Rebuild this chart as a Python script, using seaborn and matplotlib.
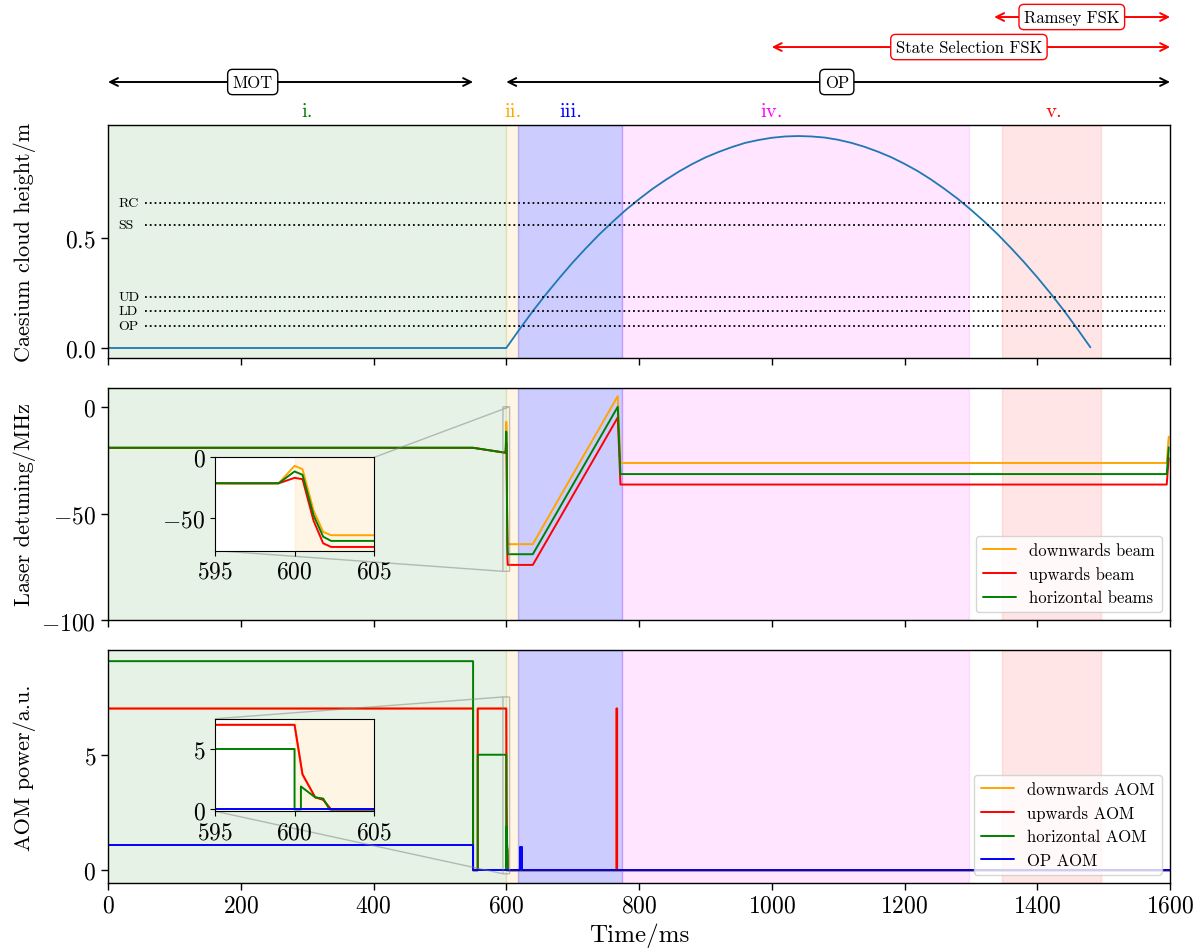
import matplotlib
matplotlib.use("Agg")
import matplotlib.pyplot as plt
import matplotlib.transforms as mtransforms
import seaborn as sns

# ---- data ----
# cloud height (m) against time (ms)
height_t = [0, 600, 620, 640, 660, 680, 700, 720, 740, 760, 780, 800, 820, 840, 860,
            880, 900, 920, 940, 960, 980, 1000, 1020, 1040, 1060, 1080, 1100, 1120,
            1140, 1160, 1180, 1200, 1220, 1240, 1260, 1280, 1300, 1320, 1340, 1360,
            1380, 1400, 1420, 1440, 1460, 1480]
height_m = [0, 0, 0.085, 0.167, 0.244, 0.317, 0.387, 0.452, 0.514, 0.571, 0.625,
            0.674, 0.720, 0.761, 0.799, 0.833, 0.863, 0.888, 0.910, 0.929, 0.942,
            0.952, 0.958, 0.960, 0.958, 0.953, 0.943, 0.929, 0.911, 0.889, 0.864,
            0.834, 0.801, 0.763, 0.721, 0.676, 0.626, 0.573, 0.516, 0.454, 0.389,
            0.320, 0.247, 0.170, 0.088, 0.003]

marker_names = ["RC", "SS", "UD", "LD", "OP"]
marker_heights = [0.655, 0.559, 0.232, 0.168, 0.10]

# laser detuning (MHz)
det_t = [0, 550, 596, 599, 600, 600.5, 601.2, 601.8, 602.3, 640, 768, 772, 1595, 1598]
det_down = [-19.2, -19.2, -21.4, -21.4, -7.0, -9.7, -44, -61.6, -64.3, -64.3, 5.0, -26.3, -26.3, -14]
det_up = [-19.2, -19.2, -21.4, -21.4, -16.9, -18.0, -52.5, -71, -74, -74, -5.0, -36.4, -36.4, -24]
det_horiz = [-19.2, -19.2, -21.4, -21.4, -11.6, -14.4, -48, -65.5, -69, -69, 0.0, -31.5, -31.5, -19]

# AOM power (a.u.)
aom_up_t = [0, 550, 550, 557, 557, 600, 600.5, 601.3, 601.8, 602.3, 766, 766, 767, 767, 1600]
aom_up = [7, 7, 0, 0, 7, 7, 2.9, 1.0, 0.8, 0, 0, 7, 7, 0, 0]
aom_down_t = aom_up_t
aom_down = aom_up
aom_horiz_t = [0, 550, 550, 557, 557, 600, 600, 600.4, 600.4, 601.3, 601.8, 602.2, 1600]
aom_horiz = [9.05, 9.05, 0, 0, 5, 5, 0, 0, 1.9, 1.0, 0.9, 0, 0]
aom_op_t = [0, 550, 550, 620, 620, 624, 624, 1600]
aom_op = [1.08, 1.08, 0, 0, 1.0, 1.0, 0, 0]

# sequence phases
phase_start = [0, 600, 617, 775, 1347]
phase_end = [600, 617, 775, 1297, 1496]
phase_names = ["i.", "ii.", "iii.", "iv.", "v."]
phase_label_x = [300, 610, 697, 1000, 1425]
phase_colors = ["green", "orange", "blue", "magenta", "red"]
phase_alpha = [0.1, 0.1, 0.2, 0.1, 0.1]

# timeline arrows above the plot
arrow_names = ["MOT", "OP", "State Selection FSK", "Ramsey FSK"]
arrow_start = [0, 600, 1000, 1335]
arrow_end = [550, 1600, 1600, 1600]
arrow_label_x = [218, 1098, 1297, 1452]
arrow_y = [0.9129, 0.9129, 0.9496, 0.9811]
arrow_colors = ["black", "black", "red", "red"]

sns.set_style("ticks", {"axes.edgecolor": "black", "xtick.color": "black",
                        "ytick.color": "black", "text.color": "black",
                        "axes.labelcolor": "black"})
plt.rcParams["font.family"] = ["cmr10"]
plt.rcParams["mathtext.fontset"] = "cm"
plt.rcParams["axes.formatter.use_mathtext"] = True

fig, (ax1, ax2, ax3) = plt.subplots(3, 1, figsize=(12.04, 9.53), dpi=100, sharex=True)
fig.subplots_adjust(left=0.0897, right=0.9718, top=0.8678, bottom=0.0724, hspace=0.127)

for ax in (ax1, ax2, ax3):
    for s, e, c, a in zip(phase_start, phase_end, phase_colors, phase_alpha):
        ax.axvspan(s, e, color=c, alpha=a)
    ax.tick_params(labelsize=17, width=1, length=5)
    for sp in ax.spines.values():
        sp.set_linewidth(1)

# panel 1: height
sns.lineplot(x=height_t, y=height_m, ax=ax1, color="C0", lw=1.3, sort=False, estimator=None)
ax1.hlines(marker_heights, 55, 1592, colors="k", linestyles="dotted", lw=1.3)
for n, h in zip(marker_names, marker_heights):
    ax1.text(16, h, n, va="center", ha="left", fontsize=10)
ax1.set_ylim(-0.045, 1.01)
ax1.set_yticks([0, 0.5])
ax1.set_ylabel("Caesium cloud height/m", fontsize=16)

tr = mtransforms.blended_transform_factory(ax1.transData, ax1.transAxes)
for n, x, c in zip(phase_names, phase_label_x, phase_colors):
    ax1.text(x, 1.02, n, transform=tr, color=c, ha="center", va="bottom", fontsize=15)

trf = mtransforms.blended_transform_factory(ax1.transData, fig.transFigure)
for n, s, e, xl, y, c in zip(arrow_names, arrow_start, arrow_end, arrow_label_x, arrow_y, arrow_colors):
    ax1.annotate("", xy=(s, y), xytext=(e, y), xycoords=trf, textcoords=trf,
                 arrowprops=dict(arrowstyle="<->", color=c, lw=1.4, shrinkA=0, shrinkB=0,
                                 mutation_scale=14),
                 annotation_clip=False)
    ax1.text(xl, y, n, transform=trf, ha="center", va="center", fontsize=12, zorder=5,
             bbox=dict(boxstyle="round,pad=0.3", fc="white", ec=c, lw=1))

# panel 2: detuning
det_series = [(det_down, "orange", "downwards beam"),
              (det_up, "red", "upwards beam"),
              (det_horiz, "green", "horizontal beams")]
for vals, c, lab in det_series:
    sns.lineplot(x=det_t, y=vals, ax=ax2, color=c, lw=1.4, label=lab, sort=False, estimator=None)
ax2.set_ylim(-100, 9)
ax2.set_yticks([-100, -50, 0])
ax2.set_ylabel("Laser detuning/MHz", fontsize=16)
ax2.legend(loc="lower right", fontsize=12)

ins2 = ax2.inset_axes([0.1008, 0.30, 0.1497, 0.40])
ins2.axvspan(600, 620, color="orange", alpha=0.1)
for vals, c, lab in det_series:
    sns.lineplot(x=det_t, y=vals, ax=ins2, color=c, lw=1.4, sort=False, estimator=None)
ins2.set_xlim(595, 605)
ins2.set_ylim(-77, 0)
ins2.set_xticks([595, 600, 605])
ins2.set_yticks([-50, 0])
ins2.tick_params(labelsize=17)
ax2.indicate_inset_zoom(ins2, edgecolor="0.5")

# panel 3: AOM power
aom_series = [(aom_down_t, aom_down, "orange", "downwards AOM"),
              (aom_up_t, aom_up, "red", "upwards AOM"),
              (aom_horiz_t, aom_horiz, "green", "horizontal AOM"),
              (aom_op_t, aom_op, "blue", "OP AOM")]
for t, vals, c, lab in aom_series:
    sns.lineplot(x=t, y=vals, ax=ax3, color=c, lw=1.4, label=lab, sort=False, estimator=None)
ax3.set_ylim(-0.55, 9.53)
ax3.set_yticks([0, 5])
ax3.set_ylabel("AOM power/a.u.", fontsize=16)
ax3.legend(loc="lower right", fontsize=12)

ins3 = ax3.inset_axes([0.1008, 0.308, 0.1497, 0.397])
ins3.axvspan(600, 620, color="orange", alpha=0.1)
for t, vals, c, lab in aom_series:
    sns.lineplot(x=t, y=vals, ax=ins3, color=c, lw=1.4, sort=False, estimator=None)
ins3.set_xlim(595, 605)
ins3.set_ylim(-0.15, 7.5)
ins3.set_xticks([595, 600, 605])
ins3.set_yticks([0, 5])
ins3.tick_params(labelsize=17)
ax3.indicate_inset_zoom(ins3, edgecolor="0.5")

ax3.set_xlim(0, 1600)
ax3.set_xlabel("Time/ms", fontsize=18)
fig.align_ylabels([ax1, ax2, ax3])

fig.savefig("out.png", dpi=100)
